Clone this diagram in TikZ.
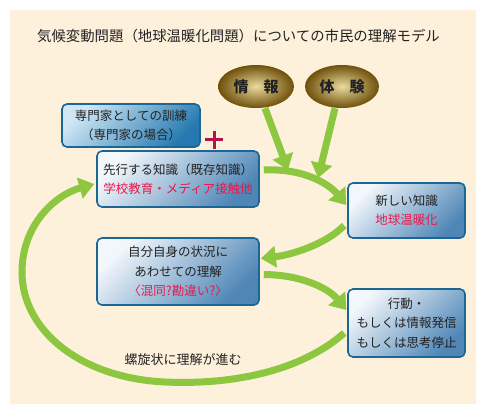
\documentclass[tikz,border=0pt]{standalone}
\usepackage{fontspec}
\setmainfont{Noto Sans CJK JP}
\usetikzlibrary{arrows.meta,shapes.geometric}
\definecolor{cream}{HTML}{FDF1DC}
\definecolor{leaf}{HTML}{8DC63F}
\definecolor{boxborder}{HTML}{1B6694}
\definecolor{boxlight}{HTML}{F2F7FC}
\definecolor{boxdark}{HTML}{4F86B6}
\definecolor{explight}{HTML}{CFE6F5}
\definecolor{expdark}{HTML}{2579B0}
\definecolor{goldin}{HTML}{EADB9E}
\definecolor{goldout}{HTML}{6E500A}
\definecolor{redtxt}{HTML}{E8194B}
\definecolor{plusred}{HTML}{B3124A}
\definecolor{txt}{HTML}{222222}
\pgfdeclarelayer{bg}
\pgfdeclarelayer{canvas}
\pgfsetlayers{canvas,bg,main}
\tikzset{
  box/.style={draw=boxborder, line width=1.6pt, rounded corners=5pt,
    top color=boxlight, bottom color=boxdark, shading angle=45,
    inner sep=0pt, align=center, text=txt,
    font=\fontsize{12.5}{19.5}\selectfont},
  expbox/.style={box, top color=explight, bottom color=expdark, shading angle=45},
  oval/.style={ellipse, inner sep=0pt, inner color=goldin, outer color=goldout,
    text=txt, font=\fontsize{15}{18}\selectfont\bfseries},
  garrow/.style={draw=leaf, line width=7pt, -{Triangle[width=21pt,length=15pt]}},
  red/.style={text=redtxt}
}
\begin{document}
\begin{tikzpicture}[x=1pt,y=-1pt]
\useasboundingbox (0,0) rectangle (486,415);
\begin{pgfonlayer}{canvas}
\fill[white] (0,0) rectangle (486,415);
\fill[cream] (10,10) rectangle (476,404);
\end{pgfonlayer}

\node[text=txt, font=\fontsize{14.4}{17}\selectfont] (title) at (238.5,36)
  {気候変動問題（地球温暖化問題）についての市民の理解モデル};

\node[oval, minimum width=76pt, minimum height=43pt] (info) at (256,86.5) {情　報};
\node[oval, minimum width=74pt, minimum height=43pt] (exper) at (342,86.5) {体　験};

\node[expbox, minimum width=138pt, minimum height=43pt] (expert) at (131,125.5)
  {専門家としての訓練\\（専門家の場合）};
\node[box, minimum width=162pt, minimum height=56pt] (pre) at (178,179)
  {先行する知識（既存知識）\\{\color{redtxt}学校教育・メディア接触他}};
\node[box, minimum width=117pt, minimum height=55pt] (new) at (406.5,210.5)
  {新しい知識\\{\color{redtxt}地球温暖化}};
\node[box, minimum width=162pt, minimum height=67pt] (self) at (178,271.5)
  {自分自身の状況に\\あわせての理解\\{\color{redtxt}〈混同?勘違い?〉}};
\node[box, minimum width=117pt, minimum height=68pt] (act) at (406.5,323)
  {行動・\\もしくは情報発信\\もしくは思考停止};

\node[minimum size=18pt, inner sep=0pt,
  path picture={\draw[plusred, line width=3pt]
    (path picture bounding box.west) -- (path picture bounding box.east)
    (path picture bounding box.north) -- (path picture bounding box.south);}]
  (plus) at (214,139.5) {};

\node[text=txt, font=\fontsize{13}{16}\selectfont] (spiral) at (183,360) {螺旋状に理解が進む};

\coordinate (jA) at (288,170);
\coordinate (jB) at (318,178);

\begin{pgfonlayer}{bg}
\draw[garrow] ([xshift=9pt]info.south) -- (jA);
\draw[garrow] ([xshift=-7pt]exper.south) -- (jB);
\draw[garrow] ([xshift=4pt,yshift=9pt]pre.east)
  .. controls (305,168) and (330,185) .. ([xshift=-1pt,yshift=5.5pt]new.west);
\draw[garrow] ([xshift=-3pt,yshift=-15pt]new.west)
  .. controls (325,245) and (290,255) .. ([xshift=1pt,yshift=13pt]self.east);
\draw[garrow] ([xshift=4pt,yshift=-3pt]self.east)
  .. controls (305,275) and (330,290) .. ([xshift=-1pt,yshift=13pt]act.west);
\draw[garrow] ([xshift=-3pt,yshift=-10pt]act.west)
  .. controls (300,372) and (230,385) .. (165,382)
  .. controls (80,378) and (22,330) .. (22,272)
  .. controls (22,225) and (55,195) .. ([xshift=-2pt,yshift=-5pt]pre.west);
\end{pgfonlayer}
\end{tikzpicture}
\end{document}
